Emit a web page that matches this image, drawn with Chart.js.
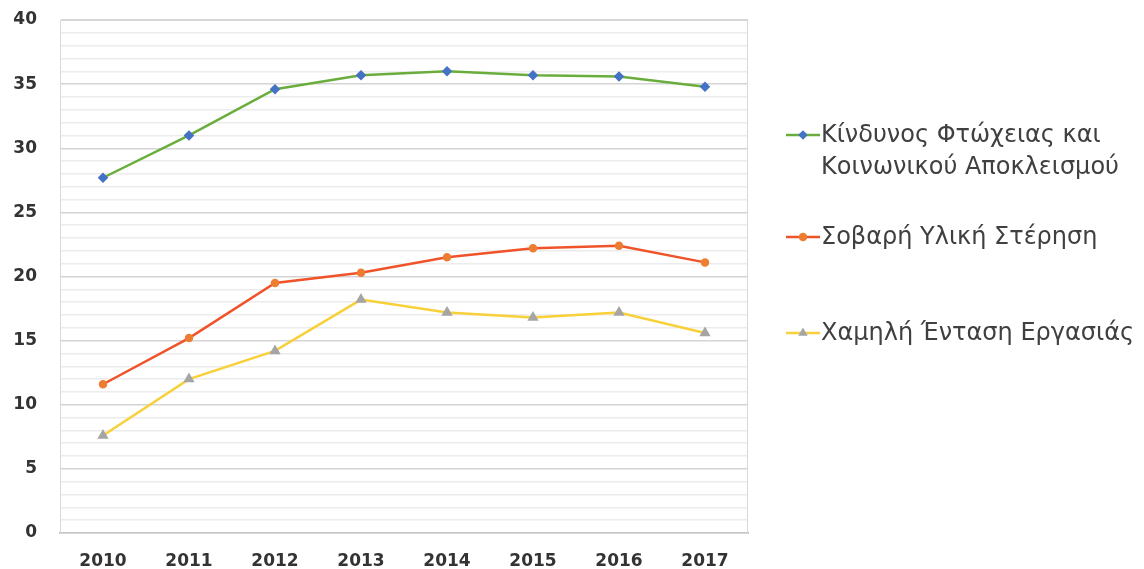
<!DOCTYPE html>
<html>
<head>
<meta charset="utf-8">
<script src="https://cdn.jsdelivr.net/npm/chart.js@4/dist/chart.umd.min.js"></script>
<style>
html,body{margin:0;padding:0;background:#fff;}
#wrap{position:relative;width:1144px;height:569px;}
</style>
</head>
<body>
<div id="wrap"><canvas id="c" width="1144" height="569"></canvas></div>
<script>
const years = ['2010','2011','2012','2013','2014','2015','2016','2017'];
const povertyRisk = [27.7, 31.0, 34.6, 35.7, 36.0, 35.7, 35.6, 34.8];
const materialDeprivation = [11.6, 15.2, 19.5, 20.3, 21.5, 22.2, 22.4, 21.1];
const lowWorkIntensity = [7.6, 12.0, 14.2, 18.2, 17.2, 16.8, 17.2, 15.6];
const seriesNames = [
  ['Κίνδυνος Φτώχειας και', 'Κοινωνικού Αποκλεισμού'],
  ['Σοβαρή Υλική Στέρηση'],
  ['Χαμηλή Ένταση Εργασιάς']
];
const yMin = 0, yMax = 40;

const legendY = [135, 237, 333];

const legendPlugin = {
  id: 'customLegend',
  beforeDatasetsDraw(chart) {
    const a = chart.chartArea;
    const ctx = chart.ctx;
    ctx.save();
    ctx.strokeStyle = '#d9d9d9';
    ctx.lineWidth = 1;
    ctx.strokeRect(a.left + 0.5, a.top + 0.5, a.right - a.left - 1, a.bottom - a.top);
    ctx.restore();
  },
  afterDraw(chart) {
    const ctx = chart.ctx;
    ctx.save();
    chart.data.datasets.forEach((ds, i) => {
      const y = legendY[i];
      ctx.strokeStyle = ds.borderColor;
      ctx.lineWidth = ds.borderWidth;
      ctx.beginPath();
      ctx.moveTo(786, y);
      ctx.lineTo(820, y);
      ctx.stroke();
      ctx.fillStyle = ds.pointBackgroundColor;
      ctx.strokeStyle = ds.pointBorderColor;
      Chart.helpers.drawPoint(ctx, {pointStyle: ds.pointStyle, radius: 3, borderWidth: 1}, 803, y);
      ctx.fillStyle = '#404040';
      ctx.font = '24px "DejaVu Sans"';
      ctx.textBaseline = 'middle';
      ctx.textAlign = 'left';
      seriesNames[i].forEach((t, k) => ctx.fillText(t, 821, y + 1 + k * 32));
    });
    ctx.restore();
  }
};

new Chart(document.getElementById('c'), {
  type: 'line',
  data: {
    labels: years,
    datasets: [
      {
        label: seriesNames[0].join(' '),
        data: povertyRisk,
        borderColor: '#6aad3d',
        borderWidth: 2.5,
        pointStyle: 'rectRot',
        pointRadius: 3.5,
        pointBackgroundColor: '#4472c4',
        pointBorderColor: '#4472c4',
        tension: 0
      },
      {
        label: seriesNames[1].join(' '),
        data: materialDeprivation,
        borderColor: '#f0532a',
        borderWidth: 2.5,
        pointStyle: 'circle',
        pointRadius: 3,
        pointBackgroundColor: '#ed7d31',
        pointBorderColor: '#ed7d31',
        tension: 0
      },
      {
        label: seriesNames[2].join(' '),
        data: lowWorkIntensity,
        borderColor: '#f7d03a',
        borderWidth: 2.5,
        pointStyle: 'triangle',
        pointRadius: 4,
        pointBackgroundColor: '#a5a5a5',
        pointBorderColor: '#a5a5a5',
        tension: 0
      }
    ]
  },
  options: {
    responsive: false,
    animation: false,
    layout: { padding: { top: 20, right: 396, left: 0, bottom: 0 } },
    plugins: { legend: { display: false }, tooltip: { enabled: false } },
    scales: {
      x: {
        offset: true,
        grid: { display: false, drawTicks: false },
        border: { display: true, color: '#c4c4c4', width: 2 },
        ticks: { color: '#333333', font: { family: 'DejaVu Sans', size: 17, weight: 'bold' }, padding: 18, maxRotation: 0 },
        afterFit(s) { s.height = 36; }
      },
      y: {
        min: yMin, max: yMax,
        grid: {
          drawTicks: false,
          color: (c) => (c.tick && c.tick.value % 5 === 0) ? '#d4d4d4' : '#ececec',
          lineWidth: 1.5
        },
        border: { display: true, color: '#d9d9d9' },
        ticks: {
          stepSize: 1,
          autoSkip: false,
          padding: 23,
          color: '#333333',
          font: { family: 'DejaVu Sans', size: 17, weight: 'bold' },
          callback: (v) => (v % 5 === 0 ? String(v) : '')
        },
        afterFit(s) { s.width = 60; s.paddingTop = 0; s.paddingBottom = 0; }
      }
    }
  },
  plugins: [legendPlugin]
});
</script>
</body>
</html>
